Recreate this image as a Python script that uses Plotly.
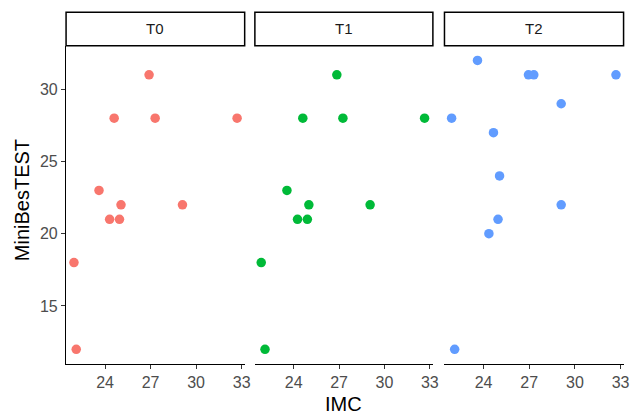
import plotly.graph_objects as go

# Data
imc_t0 = [21.95, 22.1, 23.6, 24.3, 24.6, 24.95, 25.05, 26.9, 27.3, 29.1, 32.7]
mbt_t0 = [18, 12, 23, 21, 28, 21, 22, 31, 28, 22, 28]

imc_t1 = [21.85, 22.1, 23.55, 24.25, 24.6, 24.9, 25.0, 26.85, 27.25, 29.05, 32.65]
mbt_t1 = [18, 12, 23, 21, 28, 21, 22, 31, 28, 22, 28]

imc_t2 = [21.9, 22.1, 23.6, 24.35, 24.65, 24.95, 25.05, 26.95, 27.3, 29.1, 29.1, 32.7]
mbt_t2 = [28, 12, 32, 20, 27, 21, 24, 31, 31, 29, 22, 31]

panels = ["T0", "T1", "T2"]
colors = ["#F8766D", "#00BA38", "#619CFF"]
x_ticks = [24, 27, 30, 33]
y_ticks = [15, 20, 25, 30]

W, H = 637, 415
FONT = "Liberation Sans, Arial, sans-serif"

xdoms = [(66.7 / W, 247 / W), (257.3 / W, 437 / W), (448.7 / W, 629.5 / W)]
ybot, ytop = 1 - 364 / H, 1 - 45.7 / H
strip_top = 1 - 12.3 / H

fig = go.Figure()
data = [(imc_t0, mbt_t0), (imc_t1, mbt_t1), (imc_t2, mbt_t2)]
for i, ((xs, ys), c) in enumerate(zip(data, colors)):
    sfx = "" if i == 0 else str(i + 1)
    fig.add_trace(go.Scatter(
        x=xs, y=ys, mode="markers",
        marker=dict(color=c, size=9.5, line=dict(width=0)),
        xaxis="x" + sfx, yaxis="y" + sfx, showlegend=False,
        hoverinfo="x+y",
    ))

layout = dict(
    width=W, height=H,
    margin=dict(l=0, r=0, t=0, b=0),
    paper_bgcolor="white", plot_bgcolor="white",
    font=dict(family=FONT, color="#4D4D4D"),
    showlegend=False,
)

for i in range(3):
    sfx = "" if i == 0 else str(i + 1)
    layout["xaxis" + sfx] = dict(
        domain=list(xdoms[i]), anchor="y" + sfx,
        range=[21.43, 33.2], tickvals=x_ticks,
        ticks="outside", ticklen=4, tickwidth=1.1, tickcolor="#333333",
        showline=True, linecolor="black", linewidth=1.2,
        showgrid=False, zeroline=False,
        tickfont=dict(size=16, color="#4D4D4D", family=FONT),
    )
    ydict = dict(
        domain=[ybot, ytop], anchor="x" + sfx,
        range=[10.98, 33.02], tickvals=y_ticks,
        showgrid=False, zeroline=False,
        tickfont=dict(size=16, color="#4D4D4D", family=FONT),
    )
    if i == 0:
        ydict.update(ticks="outside", ticklen=4, tickwidth=1.1, tickcolor="#333333",
                     showline=True, linecolor="black", linewidth=1.2)
    else:
        ydict.update(showticklabels=False, ticks="", showline=False, matches="y")
    layout["yaxis" + sfx] = ydict

shapes = []
annotations = []
for i, name in enumerate(panels):
    x0, x1 = xdoms[i]
    shapes.append(dict(type="rect", xref="paper", yref="paper",
                       x0=x0, x1=x1, y0=ytop, y1=strip_top,
                       line=dict(color="black", width=1.5), fillcolor="white"))
    annotations.append(dict(text=name, xref="paper", yref="paper",
                            x=(x0 + x1) / 2, y=(ytop + strip_top) / 2,
                            xanchor="center", yanchor="middle", showarrow=False,
                            font=dict(size=15, color="#1A1A1A", family=FONT)))

annotations.append(dict(text="IMC", xref="paper", yref="paper",
                        x=(xdoms[1][0] + xdoms[1][1]) / 2, y=1 - 404 / H,
                        xanchor="center", yanchor="middle", showarrow=False,
                        font=dict(size=20, color="black", family=FONT)))
annotations.append(dict(text="MiniBesTEST", xref="paper", yref="paper",
                        x=21.7 / W, y=1 - 199.7 / H, textangle=-90,
                        xanchor="center", yanchor="middle", showarrow=False,
                        font=dict(size=20, color="black", family=FONT)))

layout["shapes"] = shapes
layout["annotations"] = annotations
fig.update_layout(**layout)

fig.write_html("out.html")
